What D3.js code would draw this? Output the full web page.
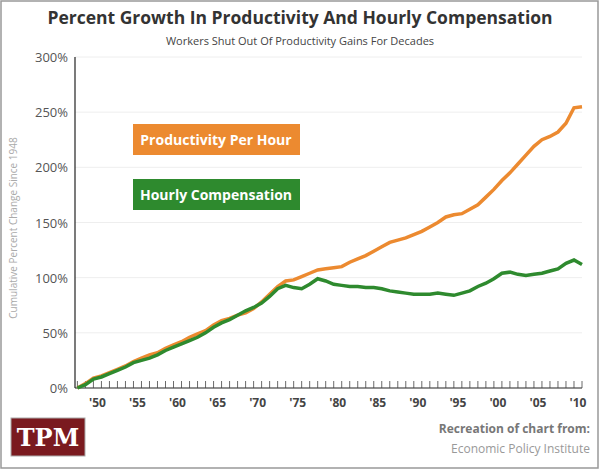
<!DOCTYPE html>
<html><head><meta charset="utf-8">
<script src="https://cdn.jsdelivr.net/npm/d3@7"></script>
<style>body{margin:0;background:#fff;font-family:"Open Sans",sans-serif}</style>
</head><body><div id="chart"></div>
<script>
var years = d3.range(1948, 2012);
var productivity = [0,4,9,11,14,17,20,24,27,30,32,36,39,42,46,49,52,57,61,63,66,68,72,78,85,92,97,98,101,104,107,108,109,110,114,117,120,124,128,132,134,136,139,142,146,150,155,157,158,162,166,173,180,188,195,203,211,219,225,228,232,240,254,255];
var compensation = [0,3,8,10,13,16,19,23,25,27,30,34,37,40,43,46,50,55,59,62,66,70,73,77,83,90,93,91,90,94,99,97,94,93,92,92,91,91,90,88,87,86,85,85,85,86,85,84,86,88,92,95,99,104,105,103,102,103,104,106,108,113,116,112];
var yTicks = [0,50,100,150,200,250,300];
var xLabels = [1950,1955,1960,1965,1970,1975,1980,1985,1990,1995,2000,2005,2010];

var width = 600, height = 470;
var svg = d3.select('#chart').append('svg').attr('width', width).attr('height', height);

svg.append('rect').attr('x',1).attr('y',1).attr('width',width-3).attr('height',height-3)
    .attr('fill','#fff').attr('stroke','#999').attr('stroke-width',1.5);

var x = d3.scaleLinear().domain([1947.7, 2011]).range([75, 582]);
var y = d3.scaleLinear().domain([0, 300]).range([388, 57]);

svg.append('text').attr('x',300).attr('y',24).attr('text-anchor','middle')
    .attr('font-size',17.5).attr('font-weight','bold').attr('fill','#333')
    .text('Percent Growth In Productivity And Hourly Compensation');
svg.append('text').attr('x',300).attr('y',45).attr('text-anchor','middle')
    .attr('font-size',11).attr('fill','#444')
    .text('Workers Shut Out Of Productivity Gains For Decades');

// grid
svg.append('g').selectAll('line').data(yTicks.slice(1)).join('line')
    .attr('x1',75).attr('x2',582).attr('y1',d=>y(d)).attr('y2',d=>y(d))
    .attr('stroke','#eee');

svg.append('g').selectAll('text').data(yTicks).join('text')
    .attr('x',68).attr('y',d=>y(d)+5).attr('text-anchor','end')
    .attr('font-size',13).attr('fill','#555').text(d=>d+'%');

svg.append('text').attr('transform','translate(17,228) rotate(-90)').attr('text-anchor','middle')
    .attr('font-size',10).attr('fill','#aaa').text('Cumulative Percent Change Since 1948');

// axes
svg.append('line').attr('x1',75).attr('x2',75).attr('y1',57).attr('y2',388).attr('stroke','#222').attr('stroke-width',1.2);
svg.append('line').attr('x1',75).attr('x2',582).attr('y1',388).attr('y2',388).attr('stroke','#222').attr('stroke-width',1.2);
svg.append('g').selectAll('line').data(years).join('line')
    .attr('x1',d=>x(d)).attr('x2',d=>x(d)).attr('y1',388).attr('y2',381)
    .attr('stroke','#444').attr('stroke-width',0.8);
svg.append('g').selectAll('text').data(xLabels).join('text')
    .attr('x',d=>x(d)+4).attr('y',407).attr('text-anchor','middle')
    .attr('font-size',12).attr('font-weight','bold').attr('fill','#444')
    .text(d=>"'"+String(d).slice(2));

var line = d3.line().x((d,i)=>x(years[i])).y(d=>y(d));
svg.append('path').datum(productivity).attr('d',line).attr('fill','none')
    .attr('stroke','#ec8a30').attr('stroke-width',3.5);
svg.append('path').datum(compensation).attr('d',line).attr('fill','none')
    .attr('stroke','#2e8a2e').attr('stroke-width',3.5);

// labels
svg.append('rect').attr('x',133).attr('y',124).attr('width',167).attr('height',31).attr('fill','#ec8a30');
svg.append('text').attr('x',216).attr('y',145).attr('text-anchor','middle').attr('fill','#fff')
    .attr('font-size',14).attr('font-weight','bold').text('Productivity Per Hour');
svg.append('rect').attr('x',133).attr('y',179).attr('width',167).attr('height',31).attr('fill','#2e8a2e');
svg.append('text').attr('x',216).attr('y',200).attr('text-anchor','middle').attr('fill','#fff')
    .attr('font-size',14).attr('font-weight','bold').text('Hourly Compensation');

// logo
svg.append('rect').attr('x',11).attr('y',418).attr('width',74).attr('height',38).attr('fill','#7a1a1f').attr('stroke','#aaa');
svg.append('text').attr('x',48).attr('y',446).attr('text-anchor','middle').attr('fill','#fff')
    .attr('font-family','DejaVu Serif, serif').attr('font-size',24).attr('font-weight','bold').text('TPM');

svg.append('text').attr('x',590).attr('y',433).attr('text-anchor','end').attr('font-size',12)
    .attr('font-weight','bold').attr('fill','#777').text('Recreation of chart from:');
svg.append('text').attr('x',590).attr('y',453).attr('text-anchor','end').attr('font-size',12)
    .attr('fill','#999').text('Economic Policy Institute');
</script></body></html>
